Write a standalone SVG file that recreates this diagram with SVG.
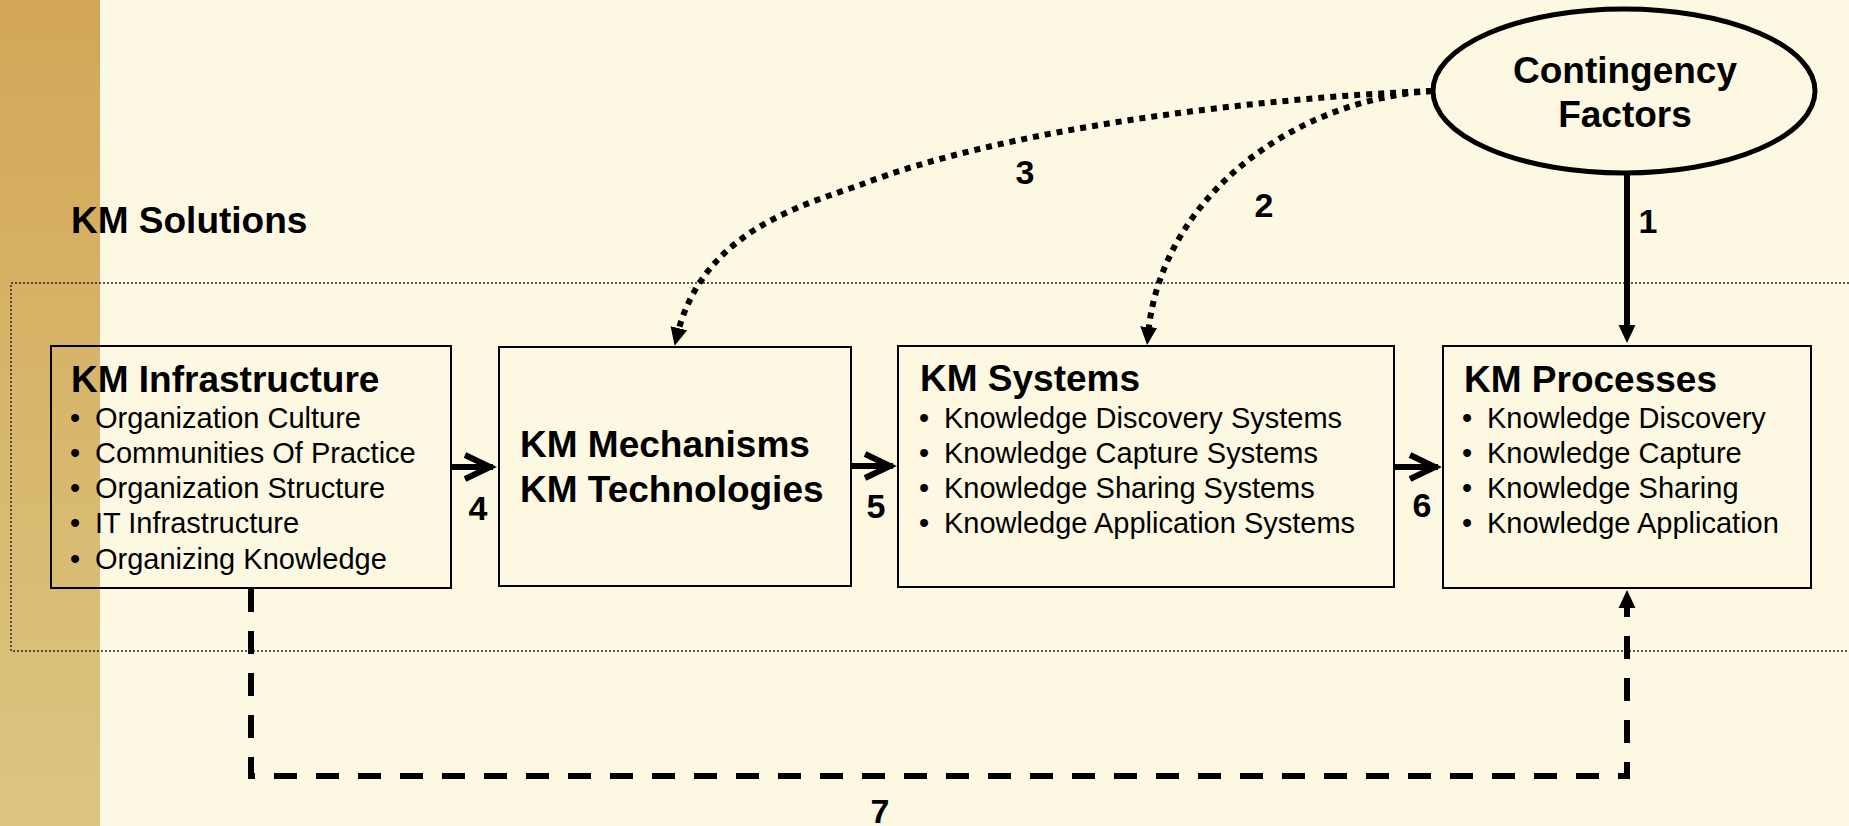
<svg xmlns="http://www.w3.org/2000/svg" width="1849" height="826" viewBox="0 0 1849 826">
<defs>
<linearGradient id="bar" x1="0" y1="0" x2="0" y2="1">
<stop offset="0" stop-color="#D3A657"/>
<stop offset="1" stop-color="#DCC681"/>
</linearGradient>
<marker id="tri" markerUnits="userSpaceOnUse" viewBox="0 0 18 18" markerWidth="18" markerHeight="18" refX="8" refY="9" orient="auto">
<path d="M0,0.5 L18,9 L0,17.5 Z" fill="#000"/>
</marker>
<marker id="chev" markerUnits="userSpaceOnUse" viewBox="-4 -16 40 32" markerWidth="40" markerHeight="32" refX="28" refY="0" orient="auto">
<path d="M0,-12 L25,0 L0,12" fill="none" stroke="#000" stroke-width="6" stroke-linejoin="miter" stroke-miterlimit="10"/>
</marker>
<style>
.t{font-family:"Liberation Sans",Arial,Helvetica,sans-serif;fill:#000}
.title{font-size:37px;font-weight:bold}
.item{font-size:29px}
.lbl{font-size:34px;font-weight:bold;text-anchor:middle}
.box{fill:none;stroke:#000;stroke-width:2}
.solid{fill:none;stroke:#000;stroke-width:6}
.dot{fill:none;stroke:#000;stroke-width:6;stroke-dasharray:6 6}
.dash{fill:none;stroke:#000;stroke-width:6;stroke-dasharray:23 19}
</style>
</defs>
<rect x="0" y="0" width="1849" height="826" fill="#FDF8E2"/>
<rect x="0" y="0" width="100" height="826" fill="url(#bar)"/>
<text class="t title" x="71" y="233">KM Solutions</text>
<rect id="solutions-frame" x="11" y="283" width="1900" height="368" fill="none" stroke="#222" stroke-width="1.4" stroke-dasharray="2 2"/>

<g id="contingency">
<ellipse cx="1624" cy="91" rx="191" ry="82" fill="none" stroke="#000" stroke-width="5"/>
<text class="t title" x="1625" y="83" text-anchor="middle">Contingency</text>
<text class="t title" x="1625" y="127" text-anchor="middle">Factors</text>
</g>

<g id="km-infrastructure">
<rect class="box" x="51" y="346" width="400" height="242"/>
<text class="t title" x="71" y="392">KM Infrastructure</text>
<text class="t item" x="75" y="428" text-anchor="middle">•</text><text class="t item" x="95" y="428">Organization Culture</text>
<text class="t item" x="75" y="463" text-anchor="middle">•</text><text class="t item" x="95" y="463">Communities Of Practice</text>
<text class="t item" x="75" y="498" text-anchor="middle">•</text><text class="t item" x="95" y="498">Organization Structure</text>
<text class="t item" x="75" y="533" text-anchor="middle">•</text><text class="t item" x="95" y="533">IT Infrastructure</text>
<text class="t item" x="75" y="569" text-anchor="middle">•</text><text class="t item" x="95" y="569">Organizing Knowledge</text>
</g>

<g id="km-mechanisms">
<rect class="box" x="499" y="347" width="352" height="239"/>
<text class="t title" x="520" y="457">KM Mechanisms</text>
<text class="t title" x="520" y="502">KM Technologies</text>
</g>

<g id="km-systems">
<rect class="box" x="898" y="346" width="496" height="241"/>
<text class="t title" x="920" y="391">KM Systems</text>
<text class="t item" x="924" y="428" text-anchor="middle">•</text><text class="t item" x="944" y="428">Knowledge Discovery Systems</text>
<text class="t item" x="924" y="463" text-anchor="middle">•</text><text class="t item" x="944" y="463">Knowledge Capture Systems</text>
<text class="t item" x="924" y="498" text-anchor="middle">•</text><text class="t item" x="944" y="498">Knowledge Sharing Systems</text>
<text class="t item" x="924" y="533" text-anchor="middle">•</text><text class="t item" x="944" y="533">Knowledge Application Systems</text>
</g>

<g id="km-processes">
<rect class="box" x="1443" y="346" width="368" height="242"/>
<text class="t title" x="1464" y="392">KM Processes</text>
<text class="t item" x="1467" y="428" text-anchor="middle">•</text><text class="t item" x="1487" y="428">Knowledge Discovery</text>
<text class="t item" x="1467" y="463" text-anchor="middle">•</text><text class="t item" x="1487" y="463">Knowledge Capture</text>
<text class="t item" x="1467" y="498" text-anchor="middle">•</text><text class="t item" x="1487" y="498">Knowledge Sharing</text>
<text class="t item" x="1467" y="533" text-anchor="middle">•</text><text class="t item" x="1487" y="533">Knowledge Application</text>
</g>

<g id="connectors">
<path class="solid" d="M1627,174 V333" marker-end="url(#tri)"/>
<path class="dot" d="M1432,91 C1290,100 1160,200 1148,335" marker-end="url(#tri)"/>
<path class="dot" d="M1432,91 C1250,98 1000,130 860,185 C800,206 702,232 677,336" marker-end="url(#tri)"/>
<path class="solid" d="M451,467 H493" marker-end="url(#chev)"/>
<path class="solid" d="M851,466 H893" marker-end="url(#chev)"/>
<path class="solid" d="M1395,467 H1438" marker-end="url(#chev)"/>
<path class="dash" d="M251,589 V776 H1627 V600" marker-end="url(#tri)"/>
<text class="t lbl" x="1648" y="233">1</text>
<text class="t lbl" x="1264" y="217">2</text>
<text class="t lbl" x="1025" y="184">3</text>
<text class="t lbl" x="478" y="520">4</text>
<text class="t lbl" x="876" y="518">5</text>
<text class="t lbl" x="1422" y="517">6</text>
<text class="t lbl" x="880" y="823">7</text>
</g>
</svg>
